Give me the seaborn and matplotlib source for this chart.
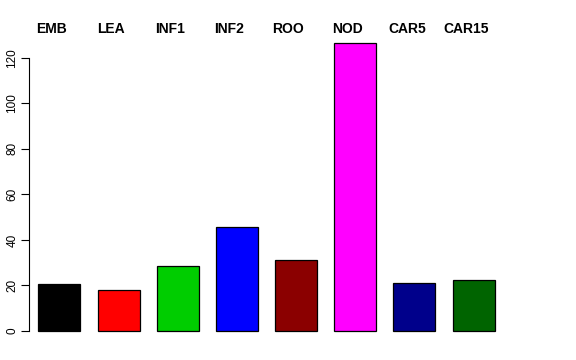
import matplotlib
matplotlib.use("Agg")
import matplotlib.pyplot as plt
import seaborn as sns
import pandas as pd

categories = ["EMB", "LEA", "INF1", "INF2", "ROO", "NOD", "CAR5", "CAR15"]
values = [20.7, 17.9, 28.6, 45.6, 31.1, 126.7, 21.2, 22.4]
colors = ["#000000", "#FF0000", "#00CD00", "#0000FF", "#8B0000", "#FF00FF", "#00008B", "#006400"]
yticks = [0, 20, 40, 60, 80, 100, 120]

plt.rcParams['font.family'] = ['Liberation Sans', 'DejaVu Sans']

df = pd.DataFrame({"cat": categories, "val": values})

fig = plt.figure(figsize=(5.76, 3.6), dpi=100)
ax = fig.add_axes([0.0509, 0.0486, 0.8236, 0.8653])
sns.barplot(data=df, x="cat", y="val", hue="cat", palette=dict(zip(categories, colors)),
            order=categories, hue_order=categories, width=0.71, legend=False,
            edgecolor="black", linewidth=0.9, saturation=1, ax=ax)

ax.set_xlim(-0.508, 7.508)
ax.set_ylim(-5.07, 131.8)
for s in ["top", "right", "bottom"]:
    ax.spines[s].set_visible(False)
ax.spines["left"].set_bounds(0, 120)
ax.spines["left"].set_linewidth(0.8)
ax.set_xticks([])
ax.set_yticks(yticks)
ax.set_yticklabels([str(t) for t in yticks], rotation=90, va="center", fontsize=8.5)
ax.tick_params(axis="y", length=6, width=0.8, pad=2)
ax.set_xlabel("")
ax.set_ylabel("")

for i, c in enumerate(categories):
    ax.text(i - 0.13, 1.0064, c, transform=ax.get_xaxis_transform(), ha="center", va="center",
            fontsize=10, fontweight="bold")

fig.savefig("out.png", dpi=100)
